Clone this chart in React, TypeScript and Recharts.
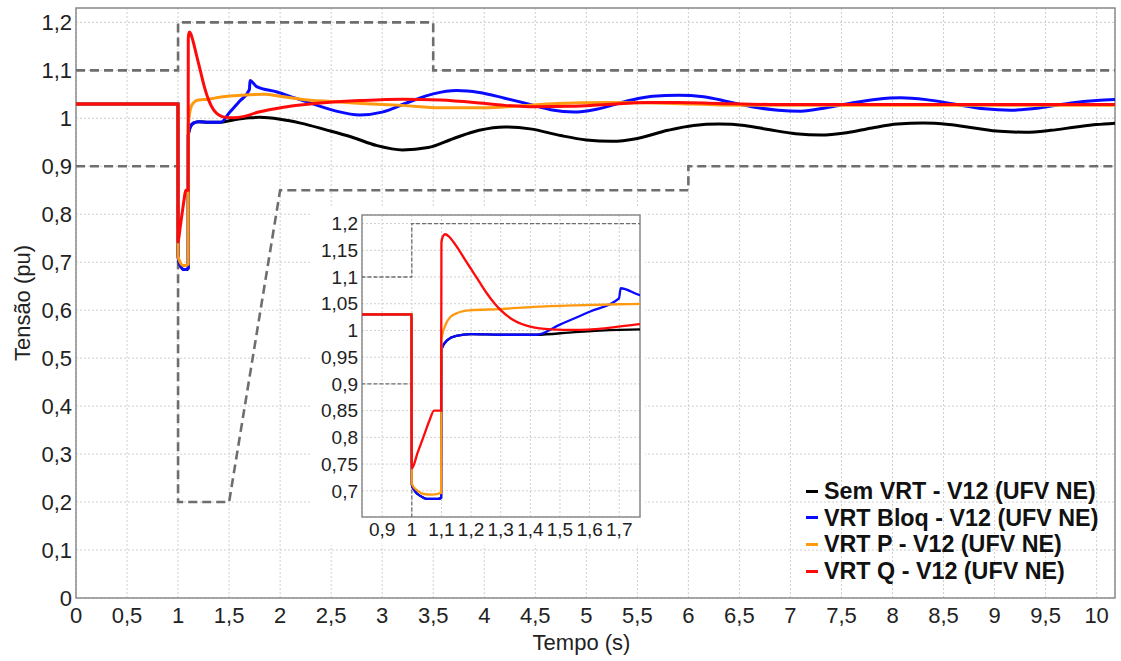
import React from "react";
import { LineChart, Line, XAxis, YAxis, CartesianGrid, ReferenceArea } from "recharts";

type Pt = [number, number];

const FONT = '"Liberation Sans", Arial, Helvetica, sans-serif';

// tick positions (labels use a decimal comma)
const xTicks = [0, 0.5, 1, 1.5, 2, 2.5, 3, 3.5, 4, 4.5, 5, 5.5, 6, 6.5, 7, 7.5, 8, 8.5, 9, 9.5, 10];
const yTicks = [0, 0.1, 0.2, 0.3, 0.4, 0.5, 0.6, 0.7, 0.8, 0.9, 1, 1.1, 1.2];
const insetXTicks = [0.9, 1, 1.1, 1.2, 1.3, 1.4, 1.5, 1.6, 1.7];
const insetYTicks = [0.7, 0.75, 0.8, 0.85, 0.9, 0.95, 1, 1.05, 1.1, 1.15, 1.2];

// VRT envelope (dashed)
const upperLimit: Pt[] = [[0, 1.1], [1, 1.1], [1, 1.2], [3.5, 1.2], [3.5, 1.1], [10.18, 1.1]];
const lowerLimit: Pt[] = [[0, 0.9], [1, 0.9], [1, 0.2], [1.5, 0.2], [2, 0.85], [6, 0.85], [6, 0.9], [10.18, 0.9]];

// Sem VRT
const semVrt: Pt[] = [
  [0, 1.03], [0.999, 1.03], [1.0, 0.712], [1.01, 0.7], [1.03, 0.69], [1.05, 0.685], [1.09, 0.685],
  [1.099, 0.687], [1.1, 0.965], [1.12, 0.982], [1.15, 0.99], [1.2, 0.993], [1.3, 0.992], [1.42, 0.992],
  [1.55, 0.997], [1.7, 1.001], [1.8, 1.002], [2.0, 0.998], [2.2, 0.99], [2.45, 0.976], [2.7, 0.961],
  [2.95, 0.943], [3.2, 0.934], [3.45, 0.939], [3.7, 0.958], [3.95, 0.975], [4.2, 0.982], [4.45, 0.978],
  [4.75, 0.964], [5.0, 0.955], [5.25, 0.952], [5.5, 0.958], [5.8, 0.975], [6.05, 0.985], [6.3, 0.988],
  [6.55, 0.985], [6.8, 0.976], [7.05, 0.968], [7.3, 0.965], [7.55, 0.97], [7.8, 0.98], [8.05, 0.988],
  [8.3, 0.99], [8.55, 0.987], [8.8, 0.98], [9.05, 0.973], [9.3, 0.971], [9.55, 0.975], [9.8, 0.982],
  [10.0, 0.987], [10.18, 0.99],
];

// VRT Bloq
const vrtBloq: Pt[] = [
  [0, 1.03], [0.999, 1.03], [1.0, 0.712], [1.01, 0.7], [1.03, 0.69], [1.05, 0.685], [1.09, 0.685],
  [1.099, 0.687], [1.1, 0.965], [1.12, 0.982], [1.15, 0.99], [1.2, 0.993], [1.3, 0.992], [1.42, 0.992],
  [1.5, 1.011], [1.6, 1.035], [1.699, 1.06], [1.705, 1.079], [1.77, 1.066], [1.97, 1.055], [2.15, 1.042],
  [2.35, 1.028], [2.55, 1.015], [2.78, 1.007], [3.0, 1.013], [3.25, 1.033], [3.5, 1.051], [3.73, 1.058],
  [3.95, 1.054], [4.2, 1.042], [4.45, 1.029], [4.65, 1.018], [4.88, 1.013], [5.1, 1.019], [5.4, 1.036],
  [5.65, 1.046], [5.9, 1.048], [6.15, 1.045], [6.4, 1.034], [6.65, 1.023], [6.88, 1.017], [7.1, 1.015],
  [7.35, 1.022], [7.6, 1.032], [7.85, 1.04], [8.08, 1.043], [8.33, 1.039], [8.6, 1.03], [8.9, 1.02],
  [9.16, 1.017], [9.45, 1.022], [9.75, 1.032], [10.0, 1.037], [10.18, 1.039],
];

// VRT P
const vrtP: Pt[] = [
  [0, 1.03], [0.999, 1.03], [1.0, 0.713], [1.02, 0.7], [1.04, 0.694], [1.07, 0.693], [1.099, 0.696],
  [1.1, 0.985], [1.115, 1.012], [1.13, 1.025], [1.16, 1.034], [1.2, 1.038], [1.3, 1.04], [1.41, 1.044],
  [1.55, 1.047], [1.7, 1.049], [1.85, 1.05], [2.0, 1.046], [2.2, 1.04], [2.5, 1.035], [2.8, 1.031],
  [3.2, 1.027], [3.57, 1.022], [4.0, 1.022], [4.3, 1.025], [4.71, 1.031], [5.2, 1.033], [5.85, 1.031],
  [6.3, 1.028], [7.0, 1.027], [8.0, 1.027], [10.18, 1.027],
];

// VRT Q
const vrtQ: Pt[] = [
  [0, 1.03], [0.999, 1.03], [1.0, 0.742], [1.02, 0.772], [1.04, 0.802], [1.06, 0.832], [1.075, 0.85],
  [1.099, 0.85], [1.1, 1.165], [1.105, 1.176], [1.112, 1.18], [1.125, 1.176], [1.14, 1.166], [1.16, 1.15],
  [1.18, 1.132], [1.2, 1.115], [1.22, 1.098], [1.25, 1.072], [1.28, 1.05], [1.3, 1.038], [1.35, 1.017],
  [1.4, 1.007], [1.47, 1.002], [1.55, 1.001], [1.65, 1.004], [1.77, 1.012], [1.95, 1.02], [2.13, 1.026],
  [2.46, 1.033], [2.78, 1.037], [3.2, 1.04], [3.57, 1.038], [3.9, 1.033], [4.2, 1.027], [4.5, 1.024],
  [4.85, 1.025], [5.2, 1.029], [5.6, 1.033], [5.9, 1.033], [6.3, 1.031], [6.8, 1.029], [7.5, 1.029],
  [10.18, 1.029],
];

const legendLabels = [
  "Sem VRT - V12 (UFV NE)",
  "VRT Bloq - V12 (UFV NE)",
  "VRT P - V12 (UFV NE)",
  "VRT Q - V12 (UFV NE)",
];
const colors = ["#000000", "#0a0aff", "#ff9a10", "#ff0a0a"];
const seriesPts = [semVrt, vrtBloq, vrtP, vrtQ];

const toRows = (pts: Pt[]) => pts.map(([t, v]) => ({ t, v }));
const fmt = (v: number) => String(v).replace(".", ",");

const series = seriesPts.map((pts, i) => ({ name: legendLabels[i], color: colors[i], data: toRows(pts) }));
const upperRows = toRows(upperLimit);
const lowerRows = toRows(lowerLimit);

const LIMIT = "#6e6e6e";
const FRAME = "#8c8c8c";
const GRID = "#cfcfcf";

function Inset() {
  return (
    <div style={{ position: "absolute", left: 310, top: 207, width: 335, height: 338, background: "#fff" }}>
      <LineChart width={335} height={338} margin={{ top: 8, right: 5, bottom: 0, left: 0 }}>
        <CartesianGrid stroke={GRID} strokeDasharray="2 2" />
        <XAxis
          type="number"
          dataKey="t"
          domain={[0.832, 1.77]}
          ticks={insetXTicks}
          interval={0}
          allowDataOverflow
          height={28}
          tickFormatter={fmt}
          axisLine={false}
          tickLine={false}
          tickSize={5}
          tickMargin={1}
          tick={{ fill: "#222", fontSize: 19, fontFamily: FONT }}
        />
        <YAxis
          type="number"
          domain={[0.651, 1.216]}
          ticks={insetYTicks}
          interval={0}
          allowDataOverflow
          width={52}
          tickFormatter={fmt}
          axisLine={false}
          tickLine={false}
          tickSize={4}
          tickMargin={0}
          tick={{ fill: "#222", fontSize: 19, fontFamily: FONT }}
        />
        <ReferenceArea x1={0.832} x2={1.77} y1={0.651} y2={1.216} fill="none" stroke={FRAME} strokeWidth={1.5} />
        <Line data={upperRows} dataKey="v" type="linear" stroke={LIMIT} strokeWidth={1.3} strokeDasharray="4 2" dot={false} isAnimationActive={false} />
        <Line data={lowerRows} dataKey="v" type="linear" stroke={LIMIT} strokeWidth={1.3} strokeDasharray="4 2" dot={false} isAnimationActive={false} />
        {series.map((s) => (
          <Line key={s.name} data={s.data} dataKey="v" type="monotone" stroke={s.color} strokeWidth={2.3} dot={false} isAnimationActive={false} />
        ))}
      </LineChart>
    </div>
  );
}

export default function App() {
  return (
    <div style={{ position: "absolute", left: 0, top: 0, width: 1121, height: 661, background: "#fff", fontFamily: FONT }}>
      <LineChart width={1121} height={661} margin={{ top: 8, right: 6, bottom: 0, left: 0 }}>
        <CartesianGrid stroke={GRID} strokeDasharray="2 2" />
        <XAxis
          type="number"
          dataKey="t"
          domain={[0, 10.18]}
          ticks={xTicks}
          interval={0}
          allowDataOverflow
          height={63}
          tickFormatter={fmt}
          axisLine={false}
          tickLine={false}
          tickSize={8}
          tickMargin={1}
          tick={{ fill: "#222", fontSize: 22, fontFamily: FONT }}
          label={{
            content: ({ viewBox }: any) => (
              <text x={viewBox.x + viewBox.width / 2 - 14} y={viewBox.y + 52} textAnchor="middle" fontSize={22} fill="#222" fontFamily={FONT}>
                Tempo (s)
              </text>
            ),
          }}
        />
        <YAxis
          type="number"
          domain={[0, 1.23]}
          ticks={yTicks}
          interval={0}
          allowDataOverflow
          width={76}
          tickFormatter={fmt}
          axisLine={false}
          tickLine={false}
          tickSize={4}
          tickMargin={0}
          tick={{ fill: "#222", fontSize: 22, fontFamily: FONT }}
          label={{
            content: ({ viewBox }: any) => {
              const cx = viewBox.x + 22;
              const cy = viewBox.y + viewBox.height / 2;
              return (
                <text x={cx} y={cy} transform={`rotate(-90 ${cx} ${cy})`} textAnchor="middle" dominantBaseline="central" fontSize={22} fill="#222" fontFamily={FONT}>
                  Tensão (pu)
                </text>
              );
            },
          }}
        />
        <ReferenceArea x1={0} x2={10.18} y1={0} y2={1.23} fill="none" stroke={FRAME} strokeWidth={1.5} />
        <Line data={upperRows} dataKey="v" type="linear" stroke={LIMIT} strokeWidth={2.6} strokeDasharray="9 5" dot={false} isAnimationActive={false} />
        <Line data={lowerRows} dataKey="v" type="linear" stroke={LIMIT} strokeWidth={2.6} strokeDasharray="9 5" dot={false} isAnimationActive={false} />
        {series.map((s) => (
          <Line key={s.name} data={s.data} dataKey="v" type="monotone" stroke={s.color} strokeWidth={3} dot={false} isAnimationActive={false} />
        ))}
      </LineChart>
      <Inset />
      <div style={{ position: "absolute", left: 806, top: 478, lineHeight: "26.6px", fontSize: 23.3, fontWeight: "bold", color: "#111" }}>
        {series.map((s) => (
          <div key={s.name} style={{ display: "flex", alignItems: "center", whiteSpace: "nowrap" }}>
            <span style={{ display: "inline-block", width: 12, height: 3, background: s.color, marginRight: 6 }} />
            <span>{s.name}</span>
          </div>
        ))}
      </div>
    </div>
  );
}
